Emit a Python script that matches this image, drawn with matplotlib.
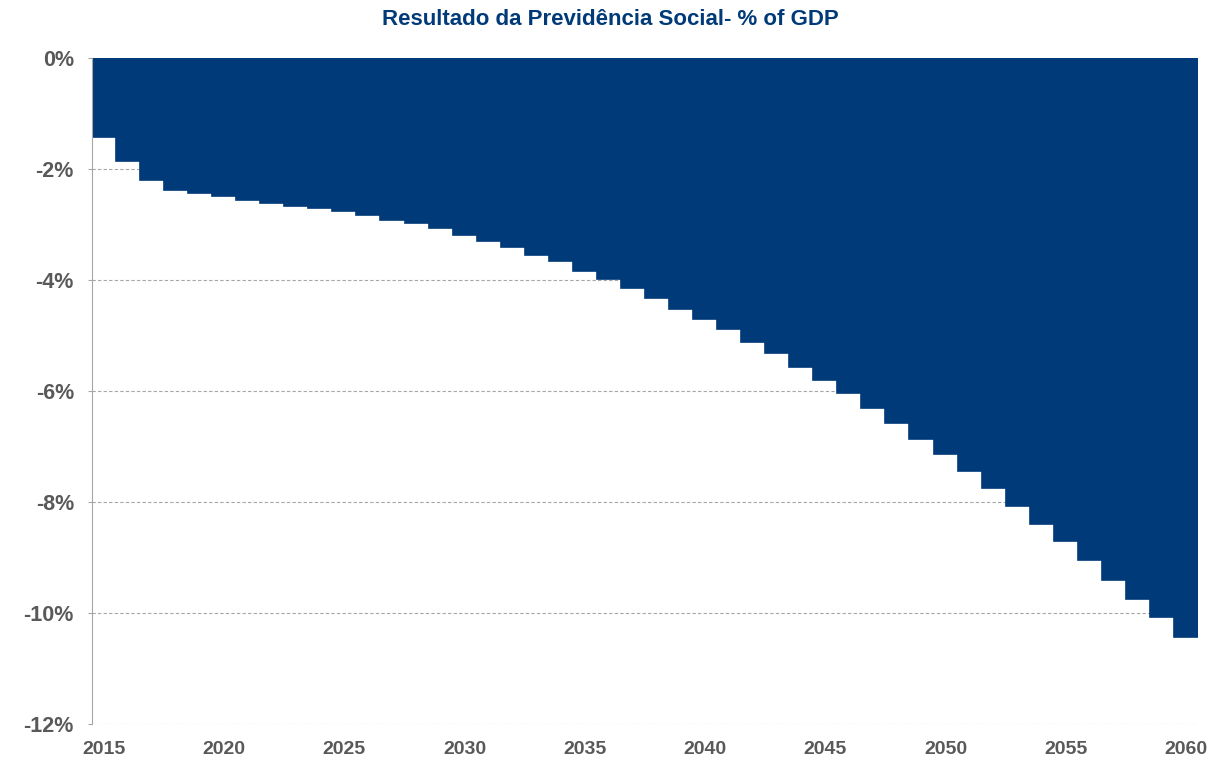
import matplotlib
matplotlib.use('Agg')
import matplotlib.pyplot as plt
from matplotlib.ticker import FuncFormatter

# dados (% do PIB)
anos = list(range(2015, 2061))
resultado = [-1.42, -1.86, -2.20, -2.38, -2.44, -2.49, -2.55, -2.62, -2.67, -2.71,
             -2.75, -2.82, -2.91, -2.98, -3.07, -3.18, -3.29, -3.40, -3.54, -3.66,
             -3.83, -3.98, -4.15, -4.33, -4.52, -4.71, -4.89, -5.11, -5.31, -5.56,
             -5.80, -6.04, -6.31, -6.58, -6.86, -7.14, -7.45, -7.74, -8.07, -8.40,
             -8.71, -9.05, -9.41, -9.74, -10.07, -10.43]
anos_rotulo = list(range(2015, 2061, 5))

azul = '#003A78'
cinza = '#595959'
fonte = ['Liberation Sans Narrow', 'Liberation Sans', 'DejaVu Sans']

fig = plt.figure(figsize=(12.21, 7.64), dpi=100)
ax = fig.add_axes([0.0753, 0.0524, 0.9059, 0.8716])

ax.bar(anos, resultado, width=1.0, color=azul, edgecolor=azul, linewidth=1.2, zorder=2)

ax.set_xlim(2014.5, 2060.5)
ax.set_ylim(-12, 0)
ax.set_yticks(range(-12, 1, 2))
ax.yaxis.set_major_formatter(FuncFormatter(lambda v, p: f'{int(v)}%'))
ax.set_xticks(anos_rotulo)

ax.grid(axis='y', color='#A6A6A6', linestyle=(0, (3, 2)), linewidth=0.8, zorder=1)
for lado in ['top', 'right', 'bottom']:
    ax.spines[lado].set_visible(False)
ax.spines['left'].set_color('#A6A6A6')

ax.tick_params(axis='x', length=0, pad=12)
ax.tick_params(axis='y', length=3, color='#A6A6A6', pad=10)
for rot in ax.get_xticklabels():
    rot.set_family(fonte)
    rot.set_fontweight('bold')
    rot.set_fontsize(14)
    rot.set_color(cinza)
for rot in ax.get_yticklabels():
    rot.set_family(fonte)
    rot.set_fontweight('bold')
    rot.set_fontsize(15.5)
    rot.set_color(cinza)

fig.text(0.5, 0.975, 'Resultado da Previdência Social- % of GDP', ha='center', va='center',
         fontsize=16, fontweight='bold', color=azul, family=fonte)

fig.savefig('out.png', dpi=100)
